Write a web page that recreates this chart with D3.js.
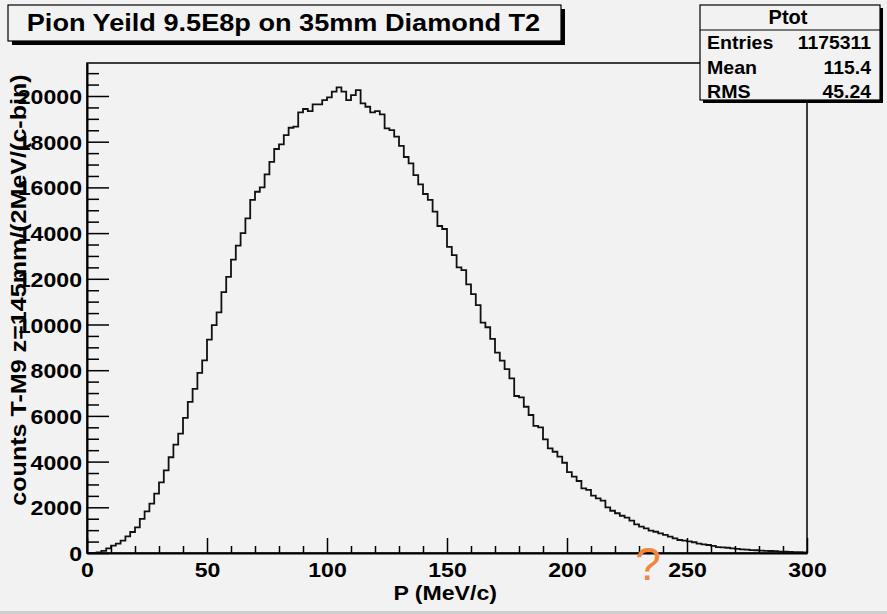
<!DOCTYPE html>
<html><head><meta charset="utf-8">
<script src="https://cdn.jsdelivr.net/npm/d3@7/dist/d3.min.js"></script>
<style>
html,body{margin:0;padding:0;background:#f2f2f2;}
svg{display:block;}
text{font-family:"Liberation Sans",Arial,sans-serif;}
</style></head>
<body>
<svg id="c" width="887" height="614"></svg>
<script>
const title = "Pion Yeild 9.5E8p on 35mm Diamond T2";
const xLabel = "P (MeV/c)";
const yLabel = "counts T-M9 z=145mm/(2MeV/(c-bin)";
const histName = "Ptot";
const statLabels = ["Entries", "Mean", "RMS"];
const statValues = ["1175311", "115.4", "45.24"];
const xRange = [0, 300];
const nBins = 150;
const xTickValues = [0, 50, 100, 150, 200, 250, 300];
const yTickValues = [0, 2000, 4000, 6000, 8000, 10000, 12000, 14000, 16000, 18000, 20000];
const yMax = 21444;
const counts = [
0,0,30,90,200,320,410,540,730,920,
1120,1490,1820,2160,2600,3090,3620,4190,4740,5220,
5910,6610,7180,7880,8430,9340,9970,10530,11420,12080,
12840,13450,14000,14640,15450,15810,16000,16570,17120,17680,
17880,18290,18610,18660,19280,19430,19340,19630,19630,19820,
19940,20190,20380,20190,19820,20040,20260,19680,19530,19280,
19340,19200,18580,18510,18220,17820,17330,17050,16540,16130,
15710,15450,14940,14310,14180,13400,13040,12500,12380,11760,
11330,10850,10080,9880,9370,8770,8420,8050,7640,6870,
6810,6400,6040,5560,5500,4970,4580,4430,4220,3950,
3540,3340,3150,2830,2760,2510,2390,2290,2000,1850,
1740,1630,1550,1420,1250,1150,1080,980,930,860,
790,720,640,570,540,510,470,410,380,350,
310,260,250,230,200,180,160,150,130,120,
100,95,88,80,60,55,45,40,35,30
];

const svg = d3.select("#c");
const L = 87, R = 807, T = 63, B = 553;
const x = d3.scaleLinear().domain(xRange).range([L, R]);
const y = d3.scaleLinear().domain([0, yMax]).range([B, T]);
const bw = (xRange[1] - xRange[0]) / nBins;

function stretch(sel, f){ sel.each(function(){ const w=this.getComputedTextLength(); if(w>0){ d3.select(this).attr("textLength", w*f).attr("lengthAdjust","spacingAndGlyphs"); } }); return sel; }

// bottom strip
svg.append("rect").attr("x",0).attr("y",611).attr("width",887).attr("height",3).attr("fill","#cfcfcf");

// frame
svg.append("rect").attr("x",L).attr("y",T).attr("width",R-L).attr("height",B-T)
  .attr("fill","none").attr("stroke","#000").attr("stroke-width",1.5);

// histogram
const pts = counts.map((c,i)=>[xRange[0]+i*bw, c]);
pts.push([xRange[1], counts[counts.length-1]]);
const line = d3.line().x(d=>x(d[0])).y(d=>y(d[1])).curve(d3.curveStepAfter);
svg.append("path").datum(pts).attr("d", line)
  .attr("fill","none").attr("stroke","#111").attr("stroke-width",1.8);

// x axis
const xMinor = d3.range(0, 301, 10);
const xAxis = d3.axisBottom(x).tickValues(xMinor)
  .tickSize(0).tickFormat(d => xTickValues.includes(d) ? d : "");
const gx = svg.append("g").attr("transform",`translate(0,${B})`).call(xAxis);
gx.select(".domain").attr("stroke","#000").attr("stroke-width",2);
gx.selectAll(".tick line").remove();
gx.selectAll(".tick").append("line")
  .attr("y1",0).attr("y2",d => xTickValues.includes(d) ? -15 : -7)
  .attr("stroke","#000").attr("stroke-width",1.5);
gx.selectAll(".tick text").attr("y",9).attr("dy","0.71em")
  .attr("font-size",21).attr("font-weight","bold").attr("fill","#000");

// y axis
const yMinor = d3.range(0, 21001, 500);
const yAxis = d3.axisLeft(y).tickValues(yMinor)
  .tickSize(0).tickFormat(d => yTickValues.includes(d) ? d : "");
const gy = svg.append("g").attr("transform",`translate(${L},0)`).call(yAxis);
gy.select(".domain").attr("stroke","#000").attr("stroke-width",2);
gy.selectAll(".tick line").remove();
gy.selectAll(".tick").append("line")
  .attr("x1",0).attr("x2",d => yTickValues.includes(d) ? 22 : 12)
  .attr("stroke","#000").attr("stroke-width",1.5);
gy.selectAll(".tick text").attr("x",-5).attr("dy","0.36em")
  .attr("font-size",21).attr("font-weight","bold").attr("fill","#000");

stretch(gx.selectAll(".tick text"), 1.1);
stretch(gy.selectAll(".tick text"), 1.1);

// axis titles
stretch(svg.append("text").attr("x",497).attr("y",600).attr("text-anchor","end")
  .attr("font-size",21).attr("font-weight","bold").text(xLabel), 1.1);
stretch(svg.append("text").attr("transform","translate(26,290) rotate(-90)").attr("text-anchor","middle")
  .attr("font-size",22).attr("font-weight","bold").text(yLabel), 1.14);

// title box
const tb = {x:8, y:5, w:553, h:36};
svg.append("rect").attr("x",tb.x+4).attr("y",tb.y+4).attr("width",tb.w).attr("height",tb.h).attr("fill","#000");
svg.append("rect").attr("x",tb.x).attr("y",tb.y).attr("width",tb.w).attr("height",tb.h)
  .attr("fill","#f2f2f2").attr("stroke","#000").attr("stroke-width",1.2);
stretch(svg.append("text").attr("x",tb.x+tb.w/2 - 1).attr("y",31).attr("text-anchor","middle")
  .attr("font-size",24).attr("font-weight","bold").text(title), 1.13);

// stats box
const sb = {x:700, y:5, w:180, h:95};
svg.append("rect").attr("x",sb.x+3).attr("y",sb.y+3).attr("width",sb.w).attr("height",sb.h).attr("fill","#000");
svg.append("rect").attr("x",sb.x).attr("y",sb.y).attr("width",sb.w).attr("height",sb.h)
  .attr("fill","#f2f2f2").attr("stroke","#000").attr("stroke-width",1.2);
svg.append("line").attr("x1",sb.x).attr("x2",sb.x+sb.w).attr("y1",30).attr("y2",30).attr("stroke","#000").attr("stroke-width",1.2);
svg.append("text").attr("x",sb.x+sb.w/2-2).attr("y",24).attr("text-anchor","middle")
  .attr("font-size",20).attr("font-weight","bold").text(histName);
const rowsY = [49, 74, 98];
statLabels.forEach((s,i)=>{
  stretch(svg.append("text").attr("x",707).attr("y",rowsY[i]).attr("font-size",19).attr("font-weight","bold").text(s), 1.03);
  stretch(svg.append("text").attr("x",871).attr("y",rowsY[i]).attr("text-anchor","end").attr("font-size",19).attr("font-weight","bold").text(statValues[i]), 1.02);
});

// orange question mark
svg.append("text").attr("x",648).attr("y",580).attr("text-anchor","middle")
  .attr("font-size",46).attr("fill","#f0873a").text("?");
</script>
</body></html>
